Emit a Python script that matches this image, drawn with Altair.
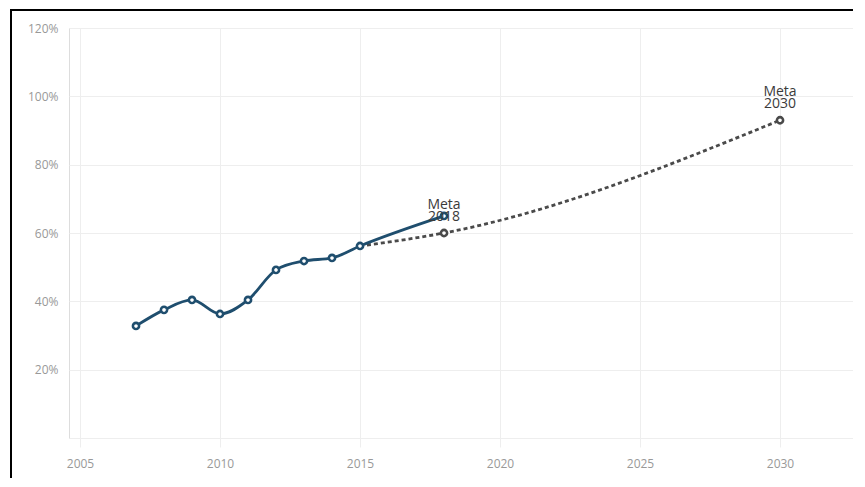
import altair as alt
import pandas as pd

# Data
real_years = [2007, 2008, 2009, 2010, 2011, 2012, 2013, 2014, 2015, 2018]
real_values = [32.8, 37.5, 40.4, 36.3, 40.4, 49.2, 51.8, 52.7, 56.2, 65.0]

goal_years = [2015, 2018, 2030]
goal_values = [56.2, 60.0, 93.0]
goal_marker = [False, True, True]
goal_labels = ["", "Meta\n2018", "Meta\n2030"]

x_ticks = [2005, 2010, 2015, 2020, 2025, 2030]
y_ticks = [0, 20, 40, 60, 80, 100, 120]

real = pd.DataFrame({"year": real_years, "value": real_values})
goal = pd.DataFrame({"year": goal_years, "value": goal_values,
                     "marker": goal_marker, "label": goal_labels})

x_scale = alt.Scale(domain=[2004.607, 2032.607], nice=False, zero=False)
y_scale = alt.Scale(domain=[0, 120], nice=False)

x_enc = alt.X("year:Q", scale=x_scale,
              axis=alt.Axis(values=x_ticks, format="d", title=None, domain=False,
                            ticks=True, tickColor="#eeeeee", tickSize=9, tickWidth=1,
                            grid=True, gridColor="#eeeeee", labelPadding=11,
                            labelColor="#999999", labelFontSize=12,
                            labelFont="Open Sans"))
y_enc = alt.Y("value:Q", scale=y_scale,
              axis=alt.Axis(values=y_ticks, title=None, domain=False, ticks=False,
                            grid=True, gridColor="#eeeeee", labelPadding=11,
                            labelExpr="datum.value == 0 ? '' : datum.value + '%'",
                            labelColor="#999999", labelFontSize=12,
                            labelFont="Open Sans"))

goal_line = alt.Chart(goal).mark_line(
    color="#4a4a4a", strokeWidth=2.8, strokeDash=[4, 3], interpolate="monotone"
).encode(x=x_enc, y=y_enc)

goal_pts = alt.Chart(goal).transform_filter("datum.marker").mark_point(
    shape="circle", filled=True, fill="white", stroke="#4a4a4a", strokeWidth=2.6,
    size=38, opacity=1
).encode(x="year:Q", y="value:Q")

goal_text = alt.Chart(goal).transform_filter("datum.marker").mark_text(
    baseline="bottom", align="center", dy=-21, fontSize=14, lineHeight=12,
    lineBreak="\n", color="#3a3a3a", font="Open Sans"
).encode(x="year:Q", y="value:Q", text="label:N")

real_line = alt.Chart(real).mark_line(
    color="#1f4e6e", strokeWidth=2.8, interpolate="monotone"
).encode(x="year:Q", y="value:Q")

real_pts = alt.Chart(real).mark_point(
    shape="circle", filled=True, fill="white", stroke="#1f4e6e", strokeWidth=2.6,
    size=38, opacity=1
).encode(x="year:Q", y="value:Q")

border_top = alt.Chart(real).mark_rule(color="black", strokeWidth=2).encode(
    x=alt.value(-58), x2=alt.value(790), y=alt.value(-18))
border_left = alt.Chart(real).mark_rule(color="black", strokeWidth=2).encode(
    x=alt.value(-58), y=alt.value(-19), y2=alt.value(470))

chart = alt.layer(
    goal_line, real_line, goal_pts, real_pts, goal_text, border_top, border_left
).properties(
    width=784, height=410,
    autosize=alt.AutoSizeParams(type="none"),
    padding={"left": 61, "top": 20, "right": 0, "bottom": 40},
).configure_view(stroke=None).configure(background="white")

chart.save("out.html", embed_options={"renderer": "svg", "actions": False})
